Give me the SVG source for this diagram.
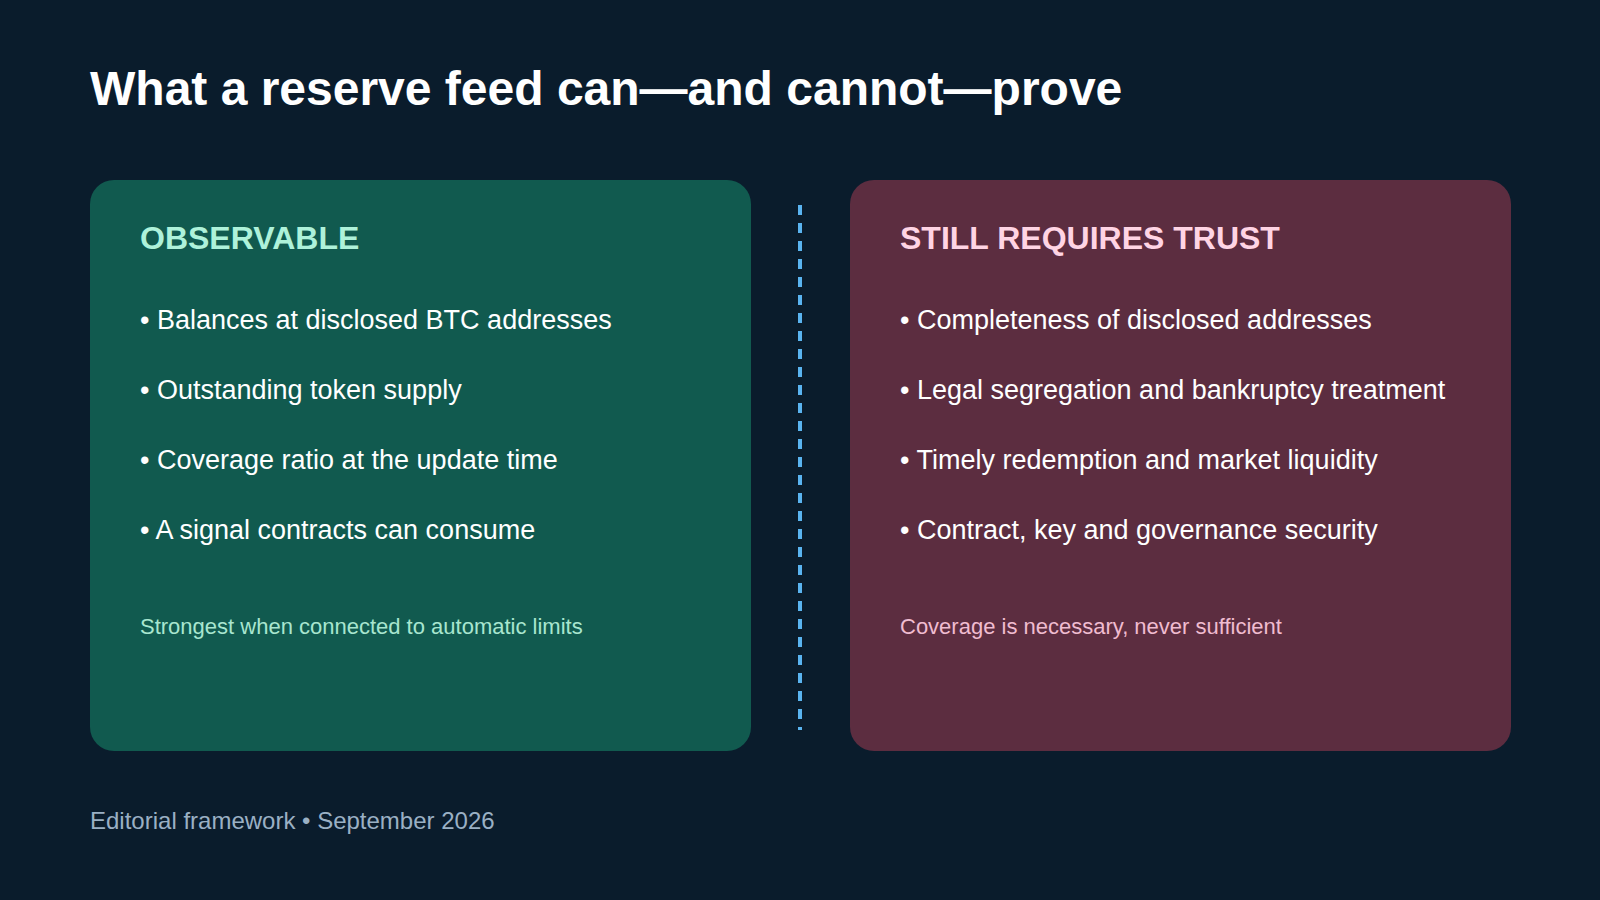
<svg xmlns="http://www.w3.org/2000/svg" width="1600" height="900" viewBox="0 0 1600 900">
<style>
text{font-family:"Liberation Sans",Arial,sans-serif}
.t{font-size:48px;font-weight:bold;fill:#ffffff}
.h{font-size:32px;font-weight:bold}
.b{font-size:27px;fill:#ffffff}
.n{font-size:22px}
</style>
<rect width="1600" height="900" fill="#0a1c2c"/>
<text class="t" x="90" y="105">What a reserve feed can—and cannot—prove</text>
<g id="observable">
<rect x="90" y="180" width="661" height="571" rx="24" fill="#115a4f"/>
<text class="h" x="140" y="249" fill="#aef2da">OBSERVABLE</text>
<text class="b" x="140" y="329">• Balances at disclosed BTC addresses</text>
<text class="b" x="140" y="399">• Outstanding token supply</text>
<text class="b" x="140" y="469">• Coverage ratio at the update time</text>
<text class="b" x="140" y="539">• A signal contracts can consume</text>
<text class="n" x="140" y="634" fill="#a8e6cf">Strongest when connected to automatic limits</text>
</g>
<g id="connectors">
<line x1="800" y1="205" x2="800" y2="730" stroke="#5ab4f0" stroke-width="4" stroke-dasharray="10 8"/>
</g>
<g id="trust">
<rect x="850" y="180" width="661" height="571" rx="24" fill="#5c2d40"/>
<text class="h" x="900" y="249" fill="#ffd4e4">STILL REQUIRES TRUST</text>
<text class="b" x="900" y="329">• Completeness of disclosed addresses</text>
<text class="b" x="900" y="399">• Legal segregation and bankruptcy treatment</text>
<text class="b" x="900" y="469">• Timely redemption and market liquidity</text>
<text class="b" x="900" y="539">• Contract, key and governance security</text>
<text class="n" x="900" y="634" fill="#f0bcd0">Coverage is necessary, never sufficient</text>
</g>
<text x="90" y="829" font-size="24" fill="#9ab0c4">Editorial framework • September 2026</text>
</svg>
